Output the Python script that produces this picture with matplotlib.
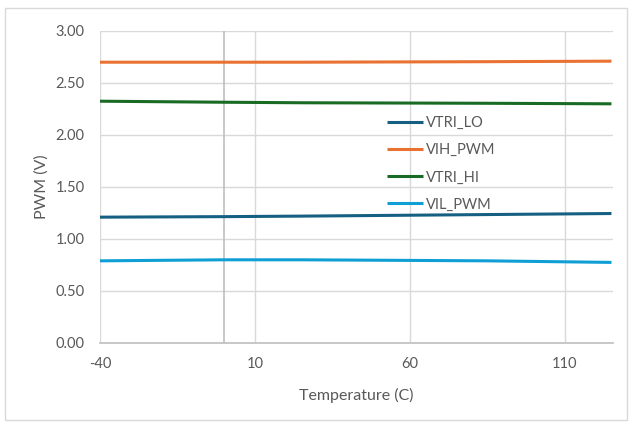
import matplotlib
matplotlib.use("Agg")
import matplotlib.pyplot as plt
from matplotlib.patches import Rectangle

# data
temps = [-40, 0, 25, 85, 125]
vtri_lo = [1.21, 1.215, 1.22, 1.235, 1.245]
vih_pwm = [2.70, 2.70, 2.70, 2.705, 2.71]
vtri_hi = [2.325, 2.315, 2.31, 2.305, 2.30]
vil_pwm = [0.79, 0.80, 0.80, 0.79, 0.775]

series_names = ['VTRI_LO', 'VIH_PWM', 'VTRI_HI', 'VIL_PWM']
series_vals = [vtri_lo, vih_pwm, vtri_hi, vil_pwm]
colors = ['#156082', '#E97132', '#196B24', '#0F9ED5']

x_ticks = [-40, 10, 60, 110]
y_ticks = [0, 0.5, 1.0, 1.5, 2.0, 2.5, 3.0]

plt.rcParams['font.family'] = ['Lato', 'DejaVu Sans']
plt.rcParams['axes.unicode_minus'] = False
text_color = '#595959'

fig = plt.figure(figsize=(6.31, 4.26), dpi=100)
ax = fig.add_axes([100 / 631, 1 - 343 / 426, 513 / 631, 312 / 426])

# outer chart border
fig.patches.append(Rectangle((5 / 631, 1 - 420 / 426), 622 / 631, 412 / 426,
                             transform=fig.transFigure, fill=False,
                             edgecolor='#D9D9D9', linewidth=1))

for name, vals, c in zip(series_names, series_vals, colors):
    ax.plot(temps, vals, color=c, linewidth=2.2, label=name, solid_capstyle='butt')

ax.set_xlim(-40, 125.5)
ax.set_ylim(0, 3.0)
ax.set_xticks(x_ticks)
ax.set_yticks(y_ticks)
ax.set_yticklabels([f'{v:.2f}' for v in y_ticks])

ax.grid(True, color='#D9D9D9', linewidth=1)
ax.set_axisbelow(True)
# vertical axis crossing at 0
ax.axvline(0, color='#BFBFBF', linewidth=1.2, zorder=1)

for s in ['top', 'right', 'left']:
    ax.spines[s].set_visible(False)
ax.spines['bottom'].set_color('#BFBFBF')
ax.spines['bottom'].set_linewidth(1.2)
ax.tick_params(length=0, labelsize=10.5, labelcolor=text_color)
ax.tick_params(axis='x', pad=10)
ax.tick_params(axis='y', pad=11)

ax.set_xlabel('Temperature (C)', fontsize=11.5, color=text_color, labelpad=12)
ax.set_ylabel('PWM (V)', fontsize=11.5, color=text_color, labelpad=5)

ax.legend(loc='upper left', bbox_to_anchor=(0.533, 0.769), frameon=False,
          fontsize=10.5, labelcolor=text_color, handlelength=2.5,
          handletextpad=0.2, labelspacing=0.9)

fig.savefig('out.png', dpi=100)
